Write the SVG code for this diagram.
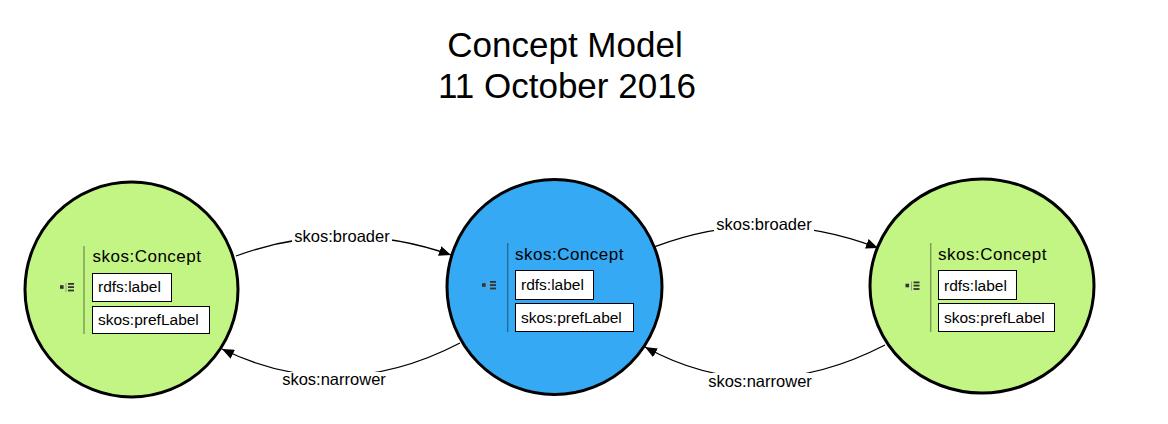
<svg xmlns="http://www.w3.org/2000/svg" width="1168" height="424" viewBox="0 0 1168 424">
<style>
text{font-family:"Liberation Sans",Arial,sans-serif;fill:#000}
.title{font-size:35px;text-anchor:middle}
.cls{font-size:17px;letter-spacing:0.5px}
.prop{font-size:15.5px}
.box{fill:#fff;stroke:#000;stroke-width:1}
.green{fill:#c3f584;stroke:#000;stroke-width:3}
.blue{fill:#35a9f4;stroke:#000;stroke-width:3}
.div{stroke:#000;stroke-opacity:0.35;stroke-width:1.5}
.edge{fill:none;stroke:#000;stroke-width:1.3}
.elabel{font-size:16.5px;text-anchor:middle}
.lbg{fill:#fff}
</style>
<defs>
<marker id="arr" markerWidth="13" markerHeight="10" refX="12" refY="5" orient="auto" markerUnits="userSpaceOnUse">
<path d="M0,0 L12,5 L0,10 Z" fill="#000"/>
</marker>
<g id="icon">
<rect x="0" y="2.2" width="3.6" height="3.6" fill="#333"/>
<line x1="6" y1="0" x2="6" y2="9" stroke="#999" stroke-width="1"/>
<rect x="8" y="0" width="6" height="1.8" fill="#333"/>
<rect x="8" y="3.2" width="6" height="1.8" fill="#333"/>
<rect x="8" y="6.6" width="6" height="1.8" fill="#333"/>
</g>
</defs>
<rect width="1168" height="424" fill="#fff"/>
<g id="title">
<text class="title" x="565" y="57">Concept Model</text>
<text class="title" x="567" y="98">11 October 2016</text>
</g>
<g id="node-left">
<ellipse class="green" cx="131.5" cy="289.5" rx="106.5" ry="107.5"/>
<use href="#icon" x="60" y="283"/>
<line class="div" x1="84" y1="246" x2="84" y2="334"/>
<text class="cls" x="92.5" y="262">skos:Concept</text>
<rect class="box" x="92.5" y="273.5" width="79" height="28"/>
<text class="prop" x="98" y="292">rdfs:label</text>
<rect class="box" x="92.5" y="306.5" width="117" height="27"/>
<text class="prop" x="98" y="325">skos:prefLabel</text>
</g>
<g id="node-middle">
<ellipse class="blue" cx="554.5" cy="287" rx="107.5" ry="107.5"/>
<use href="#icon" x="482" y="281"/>
<line class="div" x1="507.7" y1="243" x2="507.7" y2="332"/>
<text class="cls" x="515" y="260">skos:Concept</text>
<rect class="box" x="515.5" y="270.5" width="78" height="29"/>
<text class="prop" x="521" y="290">rdfs:label</text>
<rect class="box" x="515.5" y="303.5" width="118" height="28"/>
<text class="prop" x="521" y="322.5">skos:prefLabel</text>
</g>
<g id="node-right">
<ellipse class="green" cx="982" cy="286" rx="112" ry="107"/>
<use href="#icon" x="905.5" y="281.5"/>
<line class="div" x1="930.7" y1="243" x2="930.7" y2="332"/>
<text class="cls" x="938" y="260">skos:Concept</text>
<rect class="box" x="938.5" y="270.5" width="78" height="29"/>
<text class="prop" x="944" y="291">rdfs:label</text>
<rect class="box" x="938.5" y="303.5" width="116" height="28"/>
<text class="prop" x="944" y="322.5">skos:prefLabel</text>
</g>
<g id="connectors">
<path class="edge" d="M236,256 Q342.5,217 451,255" marker-end="url(#arr)"/>
<path class="edge" d="M460,343 Q339,406 222,349" marker-end="url(#arr)"/>
<path class="edge" d="M655,246.7 Q765.5,205 878,248" marker-end="url(#arr)"/>
<path class="edge" d="M885,345 Q759,410 645,347" marker-end="url(#arr)"/>
<rect class="lbg" x="292" y="228" width="100" height="18"/>
<text class="elabel" x="342" y="242">skos:broader</text>
<rect class="lbg" x="281" y="372" width="108" height="18"/>
<text class="elabel" x="334" y="385">skos:narrower</text>
<rect class="lbg" x="714" y="216" width="100" height="18"/>
<text class="elabel" x="764" y="230">skos:broader</text>
<rect class="lbg" x="706" y="373" width="108" height="18"/>
<text class="elabel" x="760" y="387">skos:narrower</text>
</g>
</svg>
